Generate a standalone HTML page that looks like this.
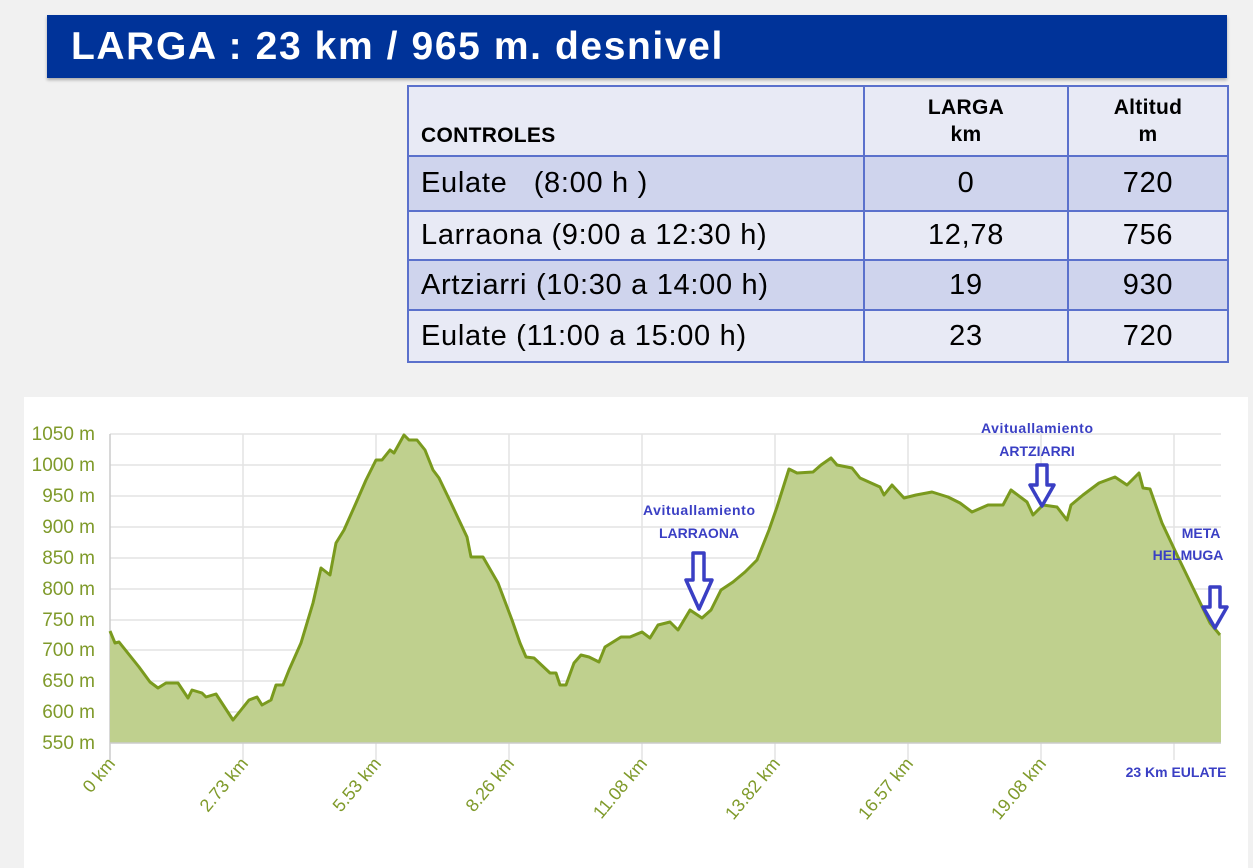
<!DOCTYPE html>
<html><head><meta charset="utf-8"><style>
body{margin:0;width:1253px;height:868px;background:#f1f1f1;position:relative;overflow:hidden;font-family:"Liberation Sans",Arial,sans-serif}
.title{position:absolute;left:47px;top:15px;width:1180px;height:63px;background:#003399;color:#fff;font-weight:bold;font-size:39px;letter-spacing:1.6px;line-height:63px;box-sizing:border-box;padding-left:24px;box-shadow:0 2px 3px rgba(0,0,0,.3)}
table{position:absolute;left:407px;top:85px;border-collapse:collapse;font-size:29px;letter-spacing:0.7px;color:#000}
td{border:2px solid #5b71cc;padding:0 12px;box-sizing:border-box}
tr.h td{height:70px;background:#e8eaf5;font-weight:bold;font-size:21px;line-height:27px;letter-spacing:0.3px}
tr.a td{background:#cfd4ed}
tr.b td{background:#e8eaf5}
.c{text-align:center}
</style></head><body>
<div class="title">LARGA : 23 km / 965 m. desnivel</div>
<table>
<tr class="h"><td style="width:456px;vertical-align:bottom;padding-bottom:6px">CONTROLES</td><td class="c" style="width:204px">LARGA<br>km</td><td class="c" style="width:160px">Altitud<br>m</td></tr>
<tr class="a" style="height:55px"><td>Eulate &nbsp;&nbsp;(8:00 h )</td><td class="c">0</td><td class="c">720</td></tr>
<tr class="b" style="height:49px"><td>Larraona (9:00 a 12:30 h)</td><td class="c">12,78</td><td class="c">756</td></tr>
<tr class="a" style="height:50px"><td>Artziarri (10:30 a 14:00 h)</td><td class="c">19</td><td class="c">930</td></tr>
<tr class="b" style="height:52px"><td>Eulate (11:00 a 15:00 h)</td><td class="c">23</td><td class="c">720</td></tr>
</table>
<svg style="position:absolute;left:0;top:0" width="1253" height="868">
<rect x="24" y="397" width="1224" height="471" fill="#fff"/>
<g stroke="#e3e3e3" stroke-width="1.5">
<line x1="110" x2="1221" y1="434" y2="434"/><line x1="110" x2="1221" y1="465" y2="465"/><line x1="110" x2="1221" y1="496" y2="496"/><line x1="110" x2="1221" y1="527" y2="527"/><line x1="110" x2="1221" y1="558" y2="558"/><line x1="110" x2="1221" y1="589" y2="589"/><line x1="110" x2="1221" y1="620" y2="620"/><line x1="110" x2="1221" y1="650" y2="650"/><line x1="110" x2="1221" y1="681" y2="681"/><line x1="110" x2="1221" y1="712" y2="712"/>
<line x1="243" x2="243" y1="434" y2="760"/><line x1="376" x2="376" y1="434" y2="760"/><line x1="509" x2="509" y1="434" y2="760"/><line x1="642" x2="642" y1="434" y2="760"/><line x1="775" x2="775" y1="434" y2="760"/><line x1="908" x2="908" y1="434" y2="760"/><line x1="1041" x2="1041" y1="434" y2="760"/><line x1="1174" x2="1174" y1="434" y2="760"/>
<line x1="110" x2="110" y1="434" y2="760" stroke="#ccc"/>
</g>
<polygon fill="#bfd08e" points="110,743 110,631 115,643 119,642 131,657 139,667 150,682 158,688 166,683 178,683 188,698 192,690 202,693 206,697 216,694 233,720 241,710 249,700 257,697 262,705 271,700 276,685 283,685 289,670 301,643 313,603 321,568 330,575 336,543 344,530 356,503 366,480 376,460 382,460 390,450 394,453 404,435 409,440 417,440 425,450 433,470 439,478 451,503 467,537 471,557 483,557 498,583 512,620 520,643 526,657 534,658 550,673 556,673 560,685 566,685 574,663 581,655 589,657 599,662 605,647 621,637 630,637 642,632 650,638 658,625 670,622 678,630 690,610 702,618 711,610 721,590 733,582 745,572 757,560 769,530 777,507 789,469 797,473 813,472 821,465 831,458 837,465 852,468 860,478 880,487 884,495 892,485 904,498 916,495 932,492 948,497 960,503 972,512 988,505 1003,505 1011,490 1027,502 1033,515 1043,505 1057,507 1067,520 1071,505 1083,495 1099,483 1115,477 1127,485 1139,473 1143,488 1150,489 1162,523 1178,557 1194,590 1210,623 1220,635 1221,635 1221,743"/>
<polyline fill="none" stroke="#7a9a1e" stroke-width="3" stroke-linejoin="round" points="110,631 115,643 119,642 131,657 139,667 150,682 158,688 166,683 178,683 188,698 192,690 202,693 206,697 216,694 233,720 241,710 249,700 257,697 262,705 271,700 276,685 283,685 289,670 301,643 313,603 321,568 330,575 336,543 344,530 356,503 366,480 376,460 382,460 390,450 394,453 404,435 409,440 417,440 425,450 433,470 439,478 451,503 467,537 471,557 483,557 498,583 512,620 520,643 526,657 534,658 550,673 556,673 560,685 566,685 574,663 581,655 589,657 599,662 605,647 621,637 630,637 642,632 650,638 658,625 670,622 678,630 690,610 702,618 711,610 721,590 733,582 745,572 757,560 769,530 777,507 789,469 797,473 813,472 821,465 831,458 837,465 852,468 860,478 880,487 884,495 892,485 904,498 916,495 932,492 948,497 960,503 972,512 988,505 1003,505 1011,490 1027,502 1033,515 1043,505 1057,507 1067,520 1071,505 1083,495 1099,483 1115,477 1127,485 1139,473 1143,488 1150,489 1162,523 1178,557 1194,590 1210,623 1220,635"/>
<line x1="110" x2="1221" y1="743" y2="743" stroke="#ccc" stroke-width="1.5"/>
<g fill="#7f9a2a" font-size="19" text-anchor="end" font-family="Liberation Sans,sans-serif">
<text x="95" y="440">1050 m</text><text x="95" y="471">1000 m</text><text x="95" y="502">950 m</text><text x="95" y="533">900 m</text><text x="95" y="564">850 m</text><text x="95" y="595">800 m</text><text x="95" y="626">750 m</text><text x="95" y="656">700 m</text><text x="95" y="687">650 m</text><text x="95" y="718">600 m</text><text x="95" y="749">550 m</text>
</g>
<g fill="#7f9a2a" font-size="18" text-anchor="end" font-family="Liberation Sans,sans-serif">
<text transform="translate(116,764) rotate(-50)">0 km</text>
<text transform="translate(249,764) rotate(-50)">2.73 km</text>
<text transform="translate(382,764) rotate(-50)">5.53 km</text>
<text transform="translate(515,764) rotate(-50)">8.26 km</text>
<text transform="translate(648,764) rotate(-50)">11.08 km</text>
<text transform="translate(781,764) rotate(-50)">13.82 km</text>
<text transform="translate(914,764) rotate(-50)">16.57 km</text>
<text transform="translate(1047,764) rotate(-50)">19.08 km</text>
</g>
<g fill="#3a3fc4" font-weight="bold" font-size="14" font-family="Liberation Sans,sans-serif" text-anchor="middle">
<text x="699" y="515" textLength="112">Avituallamiento</text><text x="699" y="538">LARRAONA</text>
<text x="1037" y="433" textLength="112">Avituallamiento</text><text x="1037" y="456">ARTZIARRI</text>
<text x="1201" y="538">META</text><text x="1188" y="560">HELMUGA</text>
<text x="1176" y="777">23 Km EULATE</text>
</g>
<g fill="#fff" stroke="#3a3fc4" stroke-width="3.5" stroke-linejoin="round">
<polygon points="693,553 704,553 704,580 712,580 699,609 686,580 693,580"/>
<polygon points="1037,465 1047,465 1047,485 1054,485 1042,506 1030,485 1037,485"/>
<polygon points="1210,587 1220,587 1220,607 1227,607 1215,628 1203,607 1210,607"/>
</g>
</svg>
</body></html>
